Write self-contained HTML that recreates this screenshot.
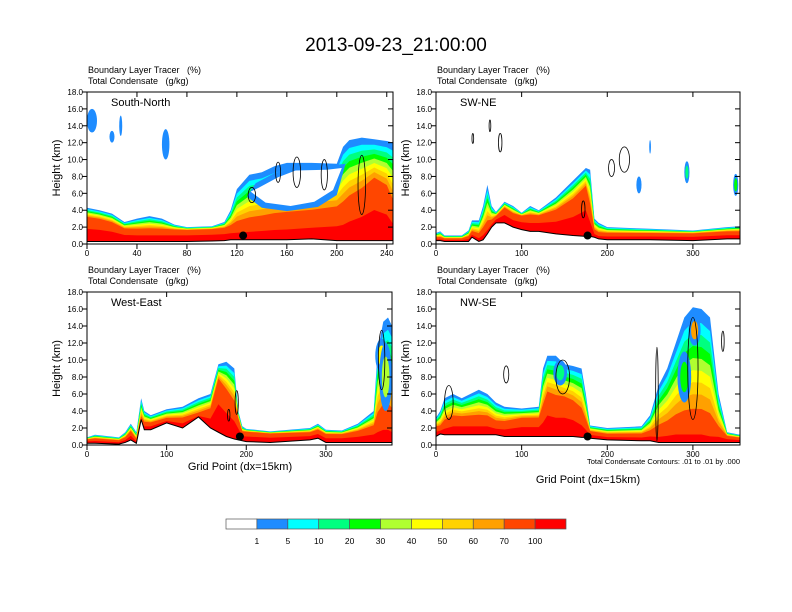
<!DOCTYPE html>
<html><head><meta charset="utf-8">
<style>
body{margin:0;background:#fff;}
svg{display:block;font-family:"Liberation Sans",sans-serif;}
text{white-space:pre;}
</style></head>
<body>
<svg id="fig" width="792" height="612" viewBox="0 0 792 612">
<text x="396" y="51" font-size="19" text-anchor="middle">2013-09-23_21:00:00</text>
</svg>
<script>
// ---- data ----
const levels = ["1","5","10","20","30","40","50","60","70","100"];
const colors = ["#ffffff","#1e8cff","#00ffff","#00ff80","#00ff00","#b0ff30","#ffff00","#ffd200","#ffa000","#ff4600","#ff0000"];

const p1Grid = [0,10,20,30,40,50,60,70,80,100,110,115,120,130,140,150,160,180,200,205,210,220,230,240,245];
const p1Env  = [4.3,4.0,3.6,2.6,3.0,3.3,3.0,2.3,2.0,2.1,2.6,4,6.5,8.2,8.5,9.2,9.6,9.6,9.5,11.5,12.3,12.6,12.4,12.2,12];
const p1Red  = [3.0,2.8,2.4,1.7,1.6,1.6,1.6,1.6,1.6,1.7,1.8,1.9,2.0,2.2,2.4,2.6,2.7,3.0,3.5,3.8,4.5,5.5,7,6,4];
const p1Ter  = [0.3,0.3,0.3,0.3,0.3,0.3,0.3,0.3,0.3,0.35,0.4,0.5,0.5,0.5,0.5,0.5,0.5,0.6,0.4,0.4,0.4,0.4,0.4,0.4,0.4];

const p2Grid = [0,5,10,30,38,42,50,55,60,65,70,80,90,100,110,120,140,160,175,180,185,190,200,250,300,340,355];
const p2Env  = [1.3,1.5,1.0,1.0,1.6,2.8,2.8,4.5,7,4.5,3.8,5.0,4.5,3.7,4.5,4.0,5.5,7.5,9,8.8,3,2.5,2.0,1.8,1.6,2.0,2.1];
const p2Red  = [0.7,0.7,0.6,0.6,0.8,1.3,1.0,1.5,2.0,2.6,3.2,4.2,3.5,3.3,3.3,3.3,3.8,5.0,6.5,4,1.5,1.2,1.2,1.2,1.2,1.4,1.4];
const p2Ter  = [0.4,0.4,0.3,0.3,0.3,0.8,0.3,0.5,1.2,2,2.5,2.5,2.0,1.7,1.5,1.5,1.2,1.0,0.9,0.9,0.8,0.6,0.5,0.5,0.4,0.6,0.6];

const p3Grid = [0,10,40,48,55,62,68,72,80,100,120,140,155,165,175,185,190,195,200,230,280,290,300,320,340,360,365,372,378,383];
const p3Env  = [0.9,1.2,0.9,1.5,2.5,1.5,5.5,4,3.5,4.2,4.5,5.5,6,9.5,9.8,9,4,2.2,1.9,1.6,2.0,2.5,1.8,1.7,2.5,4,11,14.5,15,14];
const p3Red  = [0.6,0.7,0.5,0.8,1.5,0.6,3.0,2.5,2.5,3,3,3.5,4,7.5,6,4.5,3,1.5,1.5,1.3,1.4,1.7,1.2,1.2,1.5,2,2.5,3,3,2.5];
const p3Ter  = [0.2,0.2,0.1,0.3,0.6,0.2,3,1.8,1.8,2.6,2.0,3.3,2.0,1.5,1.0,0.7,0.6,0.5,0.4,0.3,0.6,0.8,0.3,0.3,0.3,0.3,0.3,0.3,0.3,0.3];

const p4Grid = [0,5,10,20,30,40,50,60,70,80,100,120,125,130,140,150,160,170,175,180,200,240,250,260,270,280,290,300,310,320,330,340,355];
const p4Env  = [3.2,4,5.5,6,5.5,6,6.5,6,5,4.5,4.3,4.5,9,10.5,10.5,9.5,9.3,9,6,2.3,2.0,2.2,3.5,7,9,12,15,16.2,16,15,6,1.5,1.2];
const p4Red  = [2,2,2.5,3,3,3,3,3,2.5,2.5,3,3,4,5.5,5,5,4.5,3.5,2.5,1.5,1.2,1.2,1.4,1.5,1.7,2,2,2,2,1.6,1.5,1.0,0.8];
const p4Ter  = [1,1.3,1.2,1.2,1.2,1.2,1.2,1.2,1.2,1,1,1,1,1,1,1,1,0.9,0.9,0.8,0.6,0.5,0.5,0.3,0.3,0.3,0.3,0.3,0.3,0.3,0.3,0.3,0.3];

const yTicks = [0,2,4,6,8,10,12,14,16,18];
const p1XTicks = [0,40,80,120,160,200,240];
const p2XTicks = [0,100,200,300];
const bandFrac = [0,0.12,0.22,0.32,0.42,0.52,0.62,0.72,0.84];

const NS="http://www.w3.org/2000/svg";
const svg=document.getElementById('fig');
function mk(tag,attrs,parent){const e=document.createElementNS(NS,tag);for(const k in attrs)e.setAttribute(k,attrs[k]);(parent||svg).appendChild(e);return e;}

const panels=[
 {name:"south-north",title:"South-North",x0:87,x1:393,y0:92,y1:244,xmax:245,grid:p1Grid,env:p1Env,red:p1Red,ter:p1Ter,xt:p1XTicks,dot:125,
  blobs:[[4,14.6,4,1.4,1],[20,12.7,2,0.7,1],[27,14,1.2,1.2,1],[63,11.8,3,1.8,1]],
  hole:[[128,5.6],[140,4.3],[160,3.9],[185,4.4],[200,5.8],[207,9.5],[195,9.3],[170,9.2],[150,8.4],[135,7.2]],
  conts:[[132,5.8,3,0.9],[153,8.5,2,1.2],[168,8.5,3,1.8],[190,8.2,2.5,1.8],[220,7,3,3.5]],xlabel:false},
 {name:"sw-ne",title:"SW-NE",x0:436,x1:740,y0:92,y1:244,xmax:355,grid:p2Grid,env:p2Env,red:p2Red,ter:p2Ter,xt:p2XTicks,dot:177,
  blobs:[[293,8.5,3,1.3,2],[350,7,3,1.3,3],[237,7,3,1],[250,11.5,1,0.8,1]],hole:null,
  conts:[[43,12.5,1,0.6],[63,14,1,0.7],[75,12,2,1.1],[205,9,3.5,1],[220,10,6,1.5],[172,4.1,2,1]],xlabel:false},
 {name:"west-east",title:"West-East",x0:87,x1:392,y0:292,y1:445,xmax:383,grid:p3Grid,env:p3Env,red:p3Red,ter:p3Ter,xt:p2XTicks,dot:192,
  blobs:[[370,10.5,8,2,5],[375,8,8,4,4]],hole:null,
  conts:[[178,3.5,1.5,0.7],[188,5,2,1.4],[370,10,4,3.5]],xlabel:true},
 {name:"nw-se",title:"NW-SE",x0:436,x1:740,y0:292,y1:445,xmax:355,grid:p4Grid,env:p4Env,red:p4Red,ter:p4Ter,xt:p2XTicks,dot:177,
  blobs:[[302,13.5,7,1.8,7],[290,8,8,3,3],[145,8.5,8,1.5,2]],hole:null,
  conts:[[82,8.3,3,1],[15,5,5,2],[148,8,8,2],[300,9,6,6],[335,12.2,1.5,1.2],[258,6,1.5,5.5]],xlabel:true}
];

panels.forEach((p,pi)=>{
  const g=mk('g',{});
  
  
  const sx=v=>p.x0+(v/p.xmax)*(p.x1-p.x0);
  const sy=v=>p.y1-(v/18)*(p.y1-p.y0);
  const clipId='clip'+pi;
  const cp=mk('clipPath',{id:clipId},g);mk('rect',{x:p.x0,y:p.y0,width:p.x1-p.x0,height:p.y1-p.y0},cp);
  const field=mk('g',{'clip-path':'url(#'+clipId+')'},g);
  
  
  for(let k=1;k<=10;k++){
    let pts=[];
    p.grid.forEach((gx,i)=>{
      let top;
      if(k<=9) top=p.env[i]-(p.env[i]-p.red[i])*bandFrac[k-1];
      else top=p.ter[i]+(p.red[i]-p.ter[i])*0.55;
      pts.push(sx(gx)+','+sy(Math.max(top,p.ter[i])));
    });
    for(let i=p.grid.length-1;i>=0;i--)pts.push(sx(p.grid[i])+','+sy(p.ter[i]));
    const poly=mk('polygon',{points:pts.join(' '),fill:colors[k]},field);
    
    
  }
  if(p.hole){
    const h=mk('polygon',{points:p.hole.map(q=>sx(q[0])+','+sy(q[1])).join(' '),fill:'#1e8cff'},field);
    
    
    const h2=mk('polygon',{points:p.hole.map(q=>sx(q[0]+(q[0]<168?3:-3))+','+sy(q[1]+(q[1]<7?0.6:-0.5))).join(' '),fill:'#fff'},field);
    
    
  }
  p.blobs.forEach(b=>{
    const e=mk('ellipse',{cx:sx(b[0]),cy:sy(b[1]),rx:b[2]/p.xmax*(p.x1-p.x0),ry:b[3]/18*(p.y1-p.y0),fill:colors[1]},field);
    
    
    if(b[4]>1){const e2=mk('ellipse',{cx:sx(b[0]),cy:sy(b[1]),rx:b[2]/p.xmax*(p.x1-p.x0)*0.6,ry:b[3]/18*(p.y1-p.y0)*0.6,fill:colors[Math.min(b[4]+1,10)]},field);
      
      }
  });
  const tl=mk('polyline',{points:p.grid.map((gx,i)=>sx(gx)+','+sy(p.ter[i])).join(' '),fill:'none',stroke:'#000','stroke-width':1},field);
  
  
  p.conts.forEach(c=>{
    const e=mk('ellipse',{cx:sx(c[0]),cy:sy(c[1]),rx:c[2]/p.xmax*(p.x1-p.x0),ry:c[3]/18*(p.y1-p.y0),fill:'none',stroke:'#000','stroke-width':0.8},field);
    
    
  });
  const d=mk('circle',{cx:sx(p.dot),cy:sy(1.0),r:4,fill:'#000'},g);
  
  
  const fr=mk('rect',{x:p.x0,y:p.y0,width:p.x1-p.x0,height:p.y1-p.y0,fill:'none',stroke:'#000','stroke-width':1},g);
  
  
  yTicks.forEach(t=>{
    const y=sy(t);
    mk('line',{x1:p.x0,x2:p.x0-5,y1:y,y2:y,stroke:'#000'},g);
    mk('line',{x1:p.x1,x2:p.x1-5,y1:y,y2:y,stroke:'#000'},g);
    const tx=mk('text',{x:p.x0-4,y:y+3,'font-size':8,'text-anchor':'end'},g);tx.textContent=t.toFixed(1);
    
    
  });
  p.xt.forEach(t=>{
    const x=sx(t);
    mk('line',{x1:x,x2:x,y1:p.y1,y2:p.y1+5,stroke:'#000'},g);
    mk('line',{x1:x,x2:x,y1:p.y0,y2:p.y0+5,stroke:'#000'},g);
    const tx=mk('text',{x:x,y:p.y1+12,'font-size':8,'text-anchor':'middle'},g);tx.textContent=t;
    
    
  });
  const yl=mk('text',{x:0,y:0,'font-size':11,'text-anchor':'middle',transform:'translate('+(p.x0-27)+','+((p.y0+p.y1)/2)+') rotate(-90)'},g);yl.textContent='Height (km)';
  
  
  const h1=mk('text',{x:p.x0+1,y:p.y0-19,'font-size':9},g);h1.textContent='Boundary Layer Tracer   (%)';
  
  
  const h2=mk('text',{x:p.x0+1,y:p.y0-8,'font-size':9},g);h2.textContent='Total Condensate   (g/kg)';
  
  
  const ti=mk('text',{x:p.x0+24,y:p.y0+14,'font-size':11},g);ti.textContent=p.title;
  
  
});
let t=mk('text',{x:240,y:470,'font-size':11,'text-anchor':'middle'});t.textContent='Grid Point (dx=15km)';


t=mk('text',{x:588,y:483,'font-size':11,'text-anchor':'middle'});t.textContent='Grid Point (dx=15km)';


t=mk('text',{x:740,y:464,'font-size':7.5,'text-anchor':'end'});t.textContent='Total Condensate Contours: .01 to .01 by .000';


const cb=mk('g',{});


const cbx=226,cbw=340/11;
colors.forEach((c,i)=>{
  const r=mk('rect',{x:cbx+i*cbw,y:519,width:cbw,height:10,fill:c,stroke:'#555','stroke-width':0.7},cb);
  
  
});
levels.forEach((l,i)=>{
  const tx=mk('text',{x:cbx+(i+1)*cbw,y:544,'font-size':8.5,'text-anchor':'middle'},cb);tx.textContent=l;
  
  
});
</script>
</body></html>
